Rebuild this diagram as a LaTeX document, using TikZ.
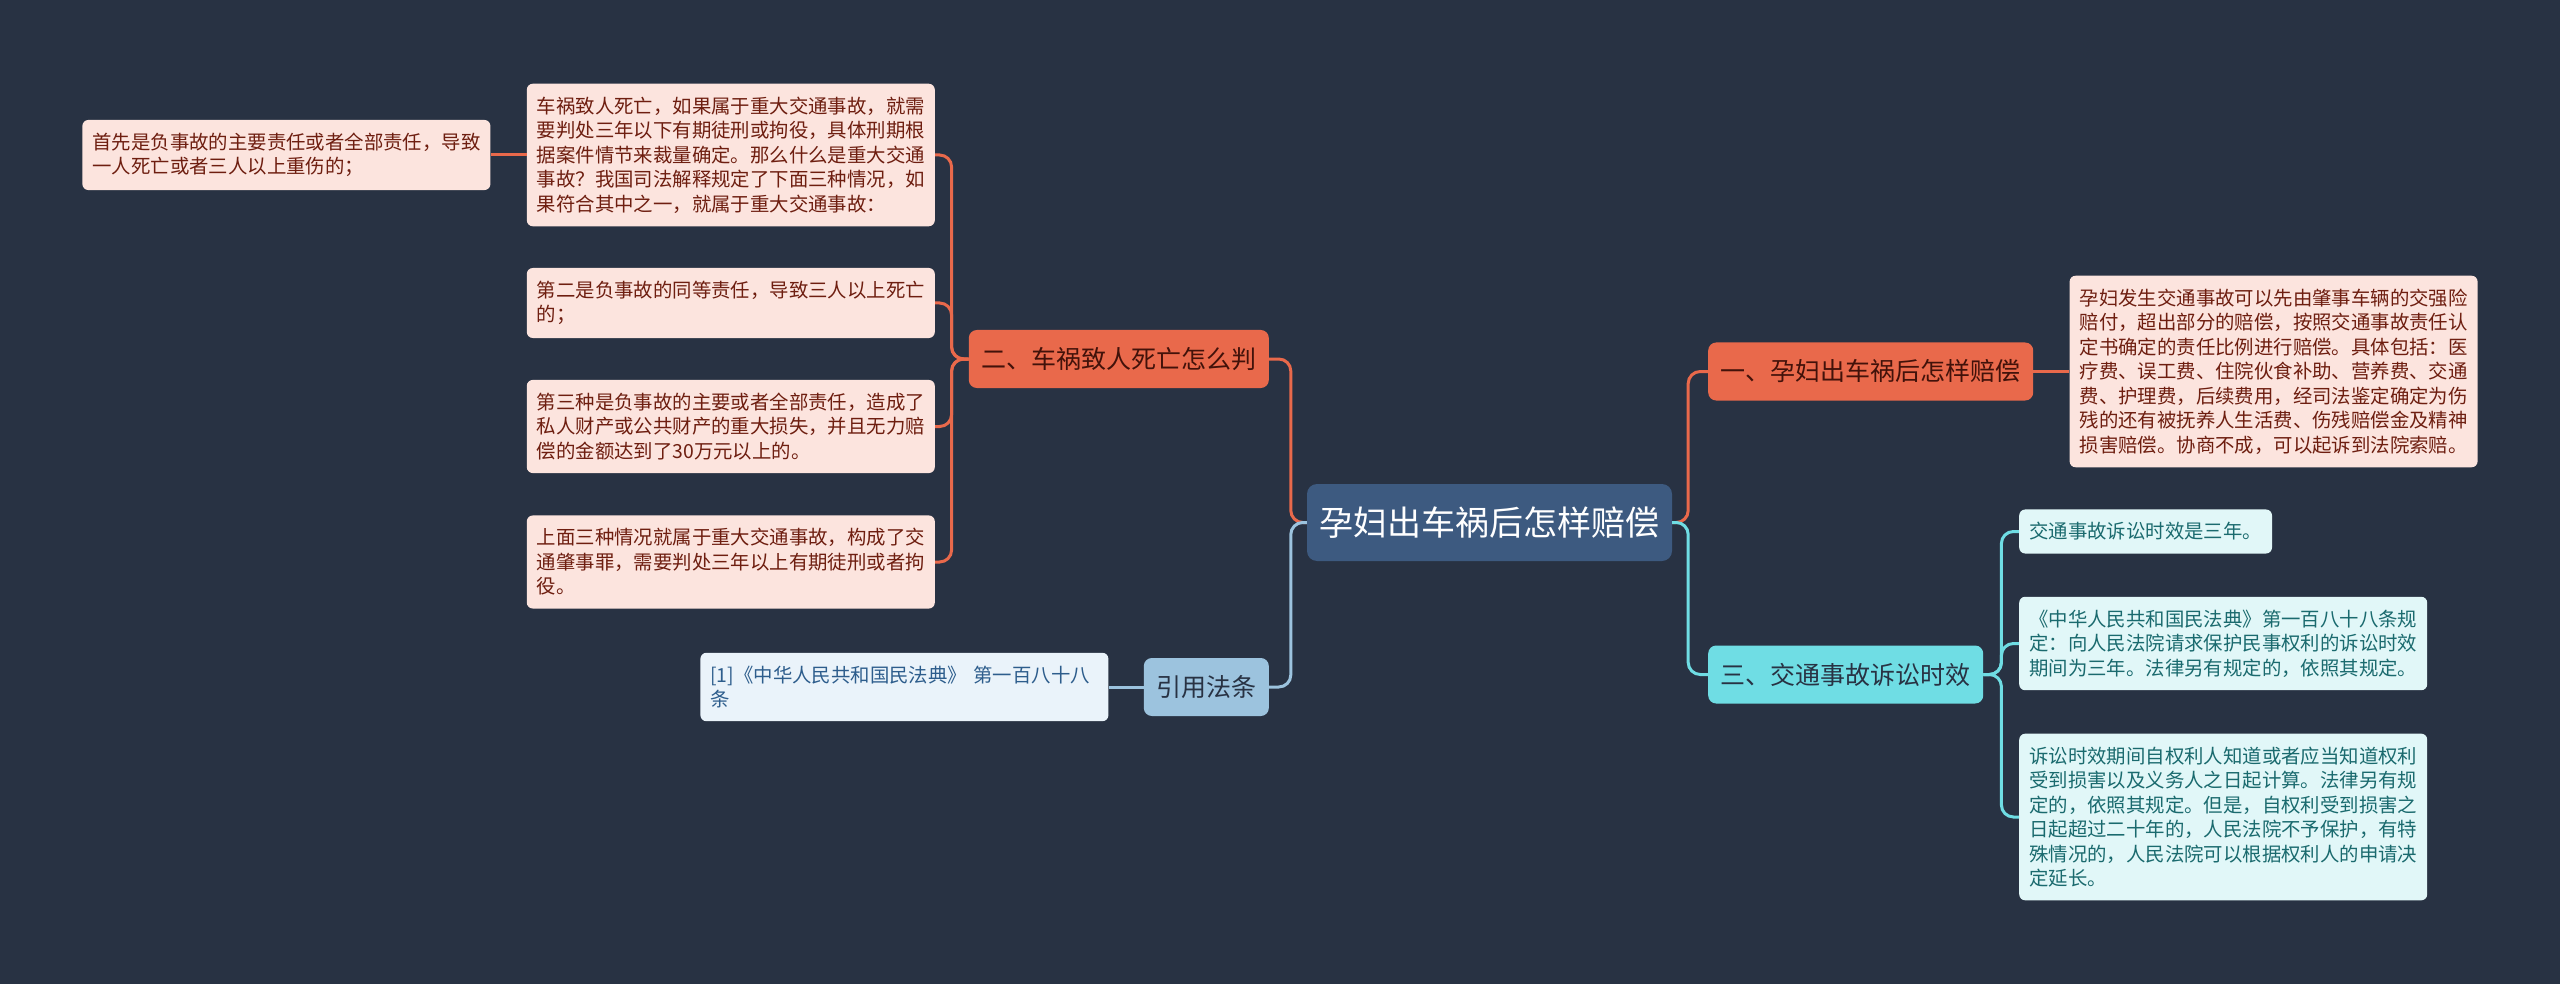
\documentclass[tikz,border=0pt]{standalone}
\usepackage{fontspec}
\newfontfamily\cjk{Noto Sans CJK SC}
\usetikzlibrary{positioning}

\definecolor{bg}{HTML}{283243}
\definecolor{rootblue}{HTML}{3D5A80}
\definecolor{orangebr}{HTML}{E9694B}
\definecolor{orangeleaf}{HTML}{FCE4DE}
\definecolor{orangetxt}{HTML}{6E1E10}
\definecolor{cyanbr}{HTML}{6FDDE4}
\definecolor{cyanleaf}{HTML}{E1F7F8}
\definecolor{cyantxt}{HTML}{1A6A6E}
\definecolor{bluebr}{HTML}{9CC3DE}
\definecolor{blueleaf}{HTML}{EAF3FA}
\definecolor{bluetxt}{HTML}{2D5D8C}

\begin{document}
\begin{tikzpicture}[x=1pt, y=-1pt,
    root/.style={rectangle, rounded corners=10pt, fill=rootblue, text=white,
                 font=\cjk\fontsize{34}{40}\selectfont,
                 inner xsep=12.5pt, minimum height=77pt},
    topic/.style={rectangle, rounded corners=8pt,
                  font=\cjk\fontsize{25}{30}\selectfont,
                  inner xsep=12.5pt, minimum height=58pt},
    leaf/.style={rectangle, rounded corners=6pt, align=left,
                 font=\cjk\fontsize{19.4}{24.5}\selectfont,
                 inner xsep=10pt, inner ysep=13pt},
    wide/.style={leaf, text width=388pt},
    link/.style={line width=3pt, rounded corners=12pt}
]
  \fill[bg] (0,0) rectangle (2560,984);
  \useasboundingbox (0,0) rectangle (2560,984);

  % Root
  \node[root] (root) at (1489.5,522.5) {孕妇出车祸后怎样赔偿};

  % Topics
  \node[topic, fill=orangebr, text=orangetxt!60!black, anchor=east] (er) at (1269,359) {二、车祸致人死亡怎么判};
  \node[topic, fill=bluebr, text=bg, anchor=east] (cite) at (1269,687) {引用法条};
  \node[topic, fill=orangebr, text=orangetxt!60!black, anchor=west] (yi) at (1708,371.5) {一、孕妇出车祸后怎样赔偿};
  \node[topic, fill=cyanbr, text=bg, anchor=west] (san) at (1708,674.5) {三、交通事故诉讼时效};

  % Left leaves
  \node[wide, fill=orangeleaf, text=orangetxt, anchor=east] (l1) at (935,155)
    {车祸致人死亡，如果属于重大交通事故，就需\\要判处三年以下有期徒刑或拘役，具体刑期根\\据案件情节来裁量确定。那么什么是重大交通\\事故？我国司法解释规定了下面三种情况，如\\果符合其中之一，就属于重大交通事故：};
  \node[wide, fill=orangeleaf, text=orangetxt, left=36pt of l1] (l0)
    {首先是负事故的主要责任或者全部责任，导致\\一人死亡或者三人以上重伤的；};
  \node[wide, fill=orangeleaf, text=orangetxt, anchor=east] (l2) at (935,303)
    {第二是负事故的同等责任，导致三人以上死亡\\的；};
  \node[wide, fill=orangeleaf, text=orangetxt, anchor=east] (l3) at (935,426.5)
    {第三种是负事故的主要或者全部责任，造成了\\私人财产或公共财产的重大损失，并且无力赔\\偿的金额达到了30万元以上的。};
  \node[wide, fill=orangeleaf, text=orangetxt, anchor=east] (l4) at (935,562)
    {上面三种情况就属于重大交通事故，构成了交\\通肇事罪，需要判处三年以上有期徒刑或者拘\\役。};
  \node[wide, fill=blueleaf, text=bluetxt, left=35pt of cite] (ref)
    {[1]《中华人民共和国民法典》 第一百八十八\\条};

  % Right leaves
  \node[wide, fill=orangeleaf, text=orangetxt, right=36pt of yi] (r1)
    {孕妇发生交通事故可以先由肇事车辆的交强险\\赔付，超出部分的赔偿，按照交通事故责任认\\定书确定的责任比例进行赔偿。具体包括：医\\疗费、误工费、住院伙食补助、营养费、交通\\费、护理费，后续费用，经司法鉴定确定为伤\\残的还有被抚养人生活费、伤残赔偿金及精神\\损害赔偿。协商不成，可以起诉到法院索赔。};
  \node[leaf, fill=cyanleaf, text=cyantxt, anchor=west] (c1) at (2019,531.5)
    {交通事故诉讼时效是三年。};
  \node[wide, fill=cyanleaf, text=cyantxt, anchor=west] (c2) at (2019,643.5)
    {《中华人民共和国民法典》第一百八十八条规\\定：向人民法院请求保护民事权利的诉讼时效\\期间为三年。法律另有规定的，依照其规定。};
  \node[wide, fill=cyanleaf, text=cyantxt, anchor=west] (c3) at (2019,817)
    {诉讼时效期间自权利人知道或者应当知道权利\\受到损害以及义务人之日起计算。法律另有规\\定的，依照其规定。但是，自权利受到损害之\\日起超过二十年的，人民法院不予保护，有特\\殊情况的，人民法院可以根据权利人的申请决\\定延长。};

  % Links
  \draw[link, orangebr] (root.west) -- ++(-16,0) |- (er.east);
  \draw[link, bluebr] (root.west) -- ++(-16,0) |- (cite.east);
  \draw[link, orangebr] (root.east) -- ++(16,0) |- (yi.west);
  \draw[link, cyanbr] (root.east) -- ++(16,0) |- (san.west);
  \foreach \n in {l1,l2,l3,l4}
    \draw[link, orangebr] (er.west) -- ++(-17,0) |- (\n.east);
  \draw[link, orangebr] (l1.west) -- (l0.east);
  \draw[link, bluebr] (cite.west) -- (ref.east);
  \draw[link, orangebr] (yi.east) -- (r1.west);
  \foreach \n in {c1,c2,c3}
    \draw[link, cyanbr] (san.east) -- ++(18,0) |- (\n.west);
\end{tikzpicture}
\end{document}
